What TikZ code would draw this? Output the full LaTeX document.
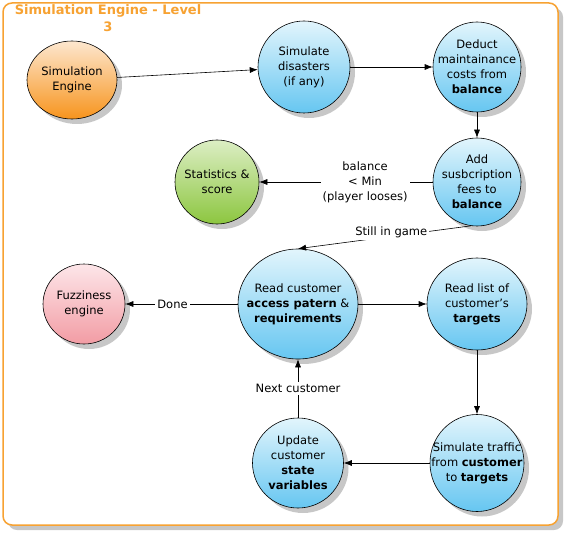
\documentclass[tikz,border=0pt]{standalone}
\usepackage{fontspec}
\setmainfont{DejaVu Sans}
\usetikzlibrary{shapes.geometric,shadows,arrows.meta}

\definecolor{frameorange}{HTML}{F7A232}
\definecolor{bluetop}{HTML}{E2F5FC}
\definecolor{bluebot}{HTML}{66C6F1}
\definecolor{orangetop}{HTML}{FDE7CF}
\definecolor{orangebot}{HTML}{F7941D}
\definecolor{greentop}{HTML}{DCEEC4}
\definecolor{greenbot}{HTML}{8CC63F}
\definecolor{pinktop}{HTML}{FDE6E9}
\definecolor{pinkbot}{HTML}{F29CA4}

\tikzset{
  gshadow/.style={drop shadow={shadow xshift=5pt,shadow yshift=-5pt,fill=black!22,opacity=1}},
  bubble/.style={ellipse, draw=black, line width=0.6pt, inner sep=-16pt, align=center,
    shading=axis, gshadow},
  proc/.style={bubble, top color=bluetop, bottom color=bluebot},
  flow/.style={-{Latex[length=8pt,width=6pt]}, line width=0.6pt},
  lab/.style={fill=white, inner sep=2pt, align=center}
}

\begin{document}
\begin{tikzpicture}[x=1pt,y=-1pt, font=\fontsize{11.5}{15}\selectfont]
  \useasboundingbox (0,0) rectangle (569,537);

  % --- frame ---
  \draw[frameorange, line width=1.5pt, rounded corners=9pt, fill=white, gshadow]
    (3,3) rectangle (558,525);
  \node[text=frameorange, align=center, font=\fontsize{13}{17}\selectfont\bfseries]
    (title) at (108,18) {Simulation Engine - Level\\3};

  % --- bubbles ---
  \node[bubble, top color=orangetop, bottom color=orangebot,
        minimum width=90pt, minimum height=78pt] (engine) at (72,80) {Simulation\\Engine};
  \node[proc, minimum width=92pt, minimum height=92pt] (disaster) at (304,67)
    {Simulate\\disasters\\(if any)};
  \node[proc, minimum width=88pt, minimum height=90pt] (deduct) at (477,67)
    {Deduct\\maintainance\\costs from\\\textbf{balance}};
  \node[proc, minimum width=88pt, minimum height=88pt] (addfees) at (477,182)
    {Add\\susbcription\\fees to\\\textbf{balance}};
  \node[bubble, top color=greentop, bottom color=greenbot,
        minimum width=84pt, minimum height=84pt] (stats) at (217,182) {Statistics \&\\score};
  \node[proc, minimum width=120pt, minimum height=110pt] (readcust) at (298,304)
    {Read customer\\\textbf{access patern} \&\\\textbf{requirements}};
  \node[bubble, top color=pinktop, bottom color=pinkbot,
        minimum width=82pt, minimum height=80pt] (fuzzy) at (84,304) {Fuzziness\\engine};
  \node[proc, minimum width=100pt, minimum height=92pt] (readlist) at (477,304)
    {Read list of\\customer's\\\textbf{targets}};
  \node[proc, minimum width=94pt, minimum height=97pt] (traffic) at (477,463)
    {Simulate traffic\\from \textbf{customer}\\to \textbf{targets}};
  \node[proc, minimum width=91pt, minimum height=90pt] (update) at (298,463)
    {Update\\customer\\\textbf{state}\\\textbf{variables}};

  % --- connectors ---
  \draw[flow] (engine) -- (disaster);
  \draw[flow] (disaster) -- (deduct);
  \draw[flow] (deduct) -- (addfees);
  \draw[flow] (addfees) -- node[lab, pos=0.39] (lose) {balance\\< Min\\(player looses)} (stats);
  \draw[flow] (addfees.262) -- node[lab, pos=0.46, yshift=4pt] (ingame) {Still in game} (readcust.north);
  \draw[flow] (readcust) -- node[lab, pos=0.58] (done) {Done} (fuzzy);
  \draw[flow] (readcust) -- (readlist);
  \draw[flow] (readlist) -- (traffic);
  \draw[flow] (traffic) -- (update);
  \draw[flow] (update) -- node[lab] (next) {Next customer} (readcust);
\end{tikzpicture}
\end{document}
